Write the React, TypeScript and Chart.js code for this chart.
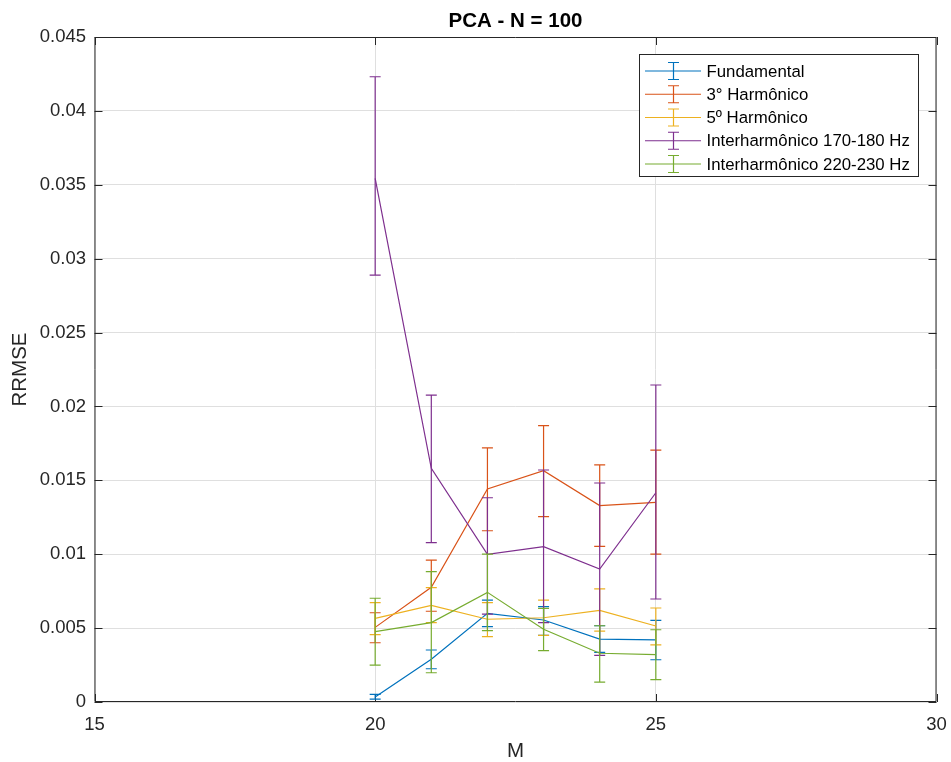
import React, { useEffect, useRef } from "react";
import { Chart, registerables } from "chart.js";

Chart.register(...registerables);

// Window sizes M used in the PCA runs
const mValues = [20, 21, 22, 23, 24, 25];

// RRMSE mean and error-bar limits per component
const fundamental = [0.00034, 0.0029, 0.006, 0.00555, 0.00426, 0.0042];
const fundamentalLow = [0.0002, 0.00225, 0.0051, 0.00451, 0.00336, 0.00286];
const fundamentalHigh = [0.00052, 0.00352, 0.0069, 0.00645, 0.00516, 0.00553];

const harm3 = [0.00505, 0.00776, 0.01441, 0.01565, 0.01329, 0.01351];
const harm3Low = [0.00401, 0.00614, 0.01159, 0.01254, 0.01053, 0.01001];
const harm3High = [0.00604, 0.0096, 0.01719, 0.0187, 0.01604, 0.01705];

const harm5 = [0.00566, 0.00654, 0.0056, 0.0057, 0.0062, 0.00514];
const harm5Low = [0.00456, 0.00537, 0.00442, 0.00451, 0.0048, 0.00386];
const harm5High = [0.00672, 0.00774, 0.00672, 0.0069, 0.00765, 0.00636];

const inter170 = [0.03544, 0.01581, 0.00999, 0.01051, 0.009, 0.01416];
const inter170Low = [0.02889, 0.01078, 0.00595, 0.00537, 0.00316, 0.00697];
const inter170High = [0.04231, 0.02077, 0.01382, 0.0157, 0.01482, 0.02145];

const inter220 = [0.00476, 0.00537, 0.00742, 0.00492, 0.0033, 0.0032];
const inter220Low = [0.0025, 0.00198, 0.00483, 0.00347, 0.00135, 0.00151];
const inter220High = [0.00702, 0.00882, 0.01001, 0.00634, 0.00516, 0.00489];

const seriesNames = [
  "Fundamental",
  "3° Harmônico",
  "5º Harmônico",
  "Interharmônico 170-180 Hz",
  "Interharmônico 220-230 Hz",
];
const seriesColors = ["#0072BD", "#D95319", "#EDB120", "#7E2F8E", "#77AC30"];

const xTicks = [15, 20, 25, 30];
const yTicks = [0, 0.005, 0.01, 0.015, 0.02, 0.025, 0.03, 0.035, 0.04, 0.045];

const titleText = "PCA - N = 100";
const xLabel = "M";
const yLabel = "RRMSE";

const FONT = "'Liberation Sans', Arial, Helvetica, sans-serif";
const AXIS_COLOR = "#262626";

const means = [fundamental, harm3, harm5, inter170, inter220];
const lows = [fundamentalLow, harm3Low, harm5Low, inter170Low, inter220Low];
const highs = [fundamentalHigh, harm3High, harm5High, inter170High, inter220High];

const CAP = 5.5;
const TICK_LEN = 8;
const LINE_W = 1.2;

// Vertical error bars with caps, drawn right after each series' line
const errorBarPlugin = {
  id: "errorBars",
  afterDatasetDraw(chart: any, args: any) {
    const i = args.index;
    const { ctx, scales } = chart;
    const xs = scales.x;
    const ys = scales.y;
    ctx.save();
    ctx.strokeStyle = seriesColors[i];
    ctx.lineWidth = LINE_W;
    mValues.forEach((m, k) => {
      const px = xs.getPixelForValue(m);
      const yl = ys.getPixelForValue(lows[i][k]);
      const yh = ys.getPixelForValue(highs[i][k]);
      ctx.beginPath();
      ctx.moveTo(px, yl);
      ctx.lineTo(px, yh);
      ctx.moveTo(px - CAP, yl);
      ctx.lineTo(px + CAP, yl);
      ctx.moveTo(px - CAP, yh);
      ctx.lineTo(px + CAP, yh);
      ctx.stroke();
    });
    ctx.restore();
  },
};

// Box outline, inward tick marks, titles and legend
const framePlugin = {
  id: "frame",
  beforeDatasetsDraw(chart: any) {
    const { ctx, chartArea: a, scales } = chart;
    ctx.save();
    ctx.strokeStyle = AXIS_COLOR;
    ctx.lineWidth = 1;
    ctx.beginPath();
    ctx.rect(a.left + 0.5, a.top + 0.5, a.right - a.left - 1, a.bottom - a.top - 1);
    xTicks.forEach((t) => {
      const px = Math.round(scales.x.getPixelForValue(t)) + 0.5;
      ctx.moveTo(px, a.bottom);
      ctx.lineTo(px, a.bottom - TICK_LEN);
      ctx.moveTo(px, a.top);
      ctx.lineTo(px, a.top + TICK_LEN);
    });
    yTicks.forEach((t) => {
      const py = Math.round(scales.y.getPixelForValue(t)) + 0.5;
      ctx.moveTo(a.left, py);
      ctx.lineTo(a.left + TICK_LEN, py);
      ctx.moveTo(a.right, py);
      ctx.lineTo(a.right - TICK_LEN, py);
    });
    ctx.stroke();
    ctx.restore();
  },
  afterDraw(chart: any) {
    const { ctx, chartArea: a } = chart;
    const cx = (a.left + a.right) / 2;
    const cy = (a.top + a.bottom) / 2;
    ctx.save();
    ctx.textAlign = "center";
    ctx.textBaseline = "middle";
    ctx.fillStyle = "#000";
    ctx.font = `bold 20.5px ${FONT}`;
    ctx.fillText(titleText, cx, 21);
    ctx.fillStyle = AXIS_COLOR;
    ctx.font = `20.5px ${FONT}`;
    ctx.fillText(xLabel, cx, 751);
    ctx.translate(20, cy);
    ctx.rotate(-Math.PI / 2);
    ctx.fillText(yLabel, 0, 0);
    ctx.restore();

    // legend
    const lx = 639.5;
    const ly = 54.5;
    const lw = 279;
    const lh = 122;
    ctx.save();
    ctx.fillStyle = "#fff";
    ctx.fillRect(lx, ly, lw, lh);
    ctx.strokeStyle = AXIS_COLOR;
    ctx.lineWidth = 1;
    ctx.strokeRect(lx, ly, lw, lh);
    ctx.font = `16.8px ${FONT}`;
    ctx.textAlign = "left";
    ctx.textBaseline = "middle";
    seriesNames.forEach((name, i) => {
      const ry = 71 + i * 23.25;
      ctx.strokeStyle = seriesColors[i];
      ctx.lineWidth = LINE_W;
      ctx.beginPath();
      ctx.moveTo(645, ry);
      ctx.lineTo(701, ry);
      const ex = 673.5;
      ctx.moveTo(ex, ry - 8.5);
      ctx.lineTo(ex, ry + 8.5);
      ctx.moveTo(ex - CAP, ry - 8.5);
      ctx.lineTo(ex + CAP, ry - 8.5);
      ctx.moveTo(ex - CAP, ry + 8.5);
      ctx.lineTo(ex + CAP, ry + 8.5);
      ctx.stroke();
      ctx.fillStyle = "#000";
      ctx.fillText(name, 706.5, ry + 1);
    });
    ctx.restore();
  },
};

export default function App() {
  const canvasRef = useRef<HTMLCanvasElement | null>(null);

  useEffect(() => {
    document.body.style.margin = "0";
    const canvas = canvasRef.current;
    if (!canvas) return;
    const datasets = seriesNames.map((name, i) => ({
      label: name,
      data: mValues.map((m, k) => ({ x: m, y: means[i][k] })),
      borderColor: seriesColors[i],
      backgroundColor: seriesColors[i],
      borderWidth: LINE_W,
      pointRadius: 0,
      fill: false,
      tension: 0,
      order: seriesNames.length - 1 - i,
    }));
    const chart = new Chart(canvas, {
      type: "line",
      data: { datasets },
      options: {
        animation: false,
        responsive: false,
        devicePixelRatio: 1,
        layout: { padding: { top: 37, right: 14.5, left: 0, bottom: 0 } },
        plugins: {
          legend: { display: false },
          title: { display: false },
          tooltip: { enabled: false },
        },
        scales: {
          x: {
            type: "linear",
            min: 15,
            max: 30,
            afterBuildTicks: (s: any) => {
              s.ticks = xTicks.map((v) => ({ value: v }));
            },
            afterFit: (s: any) => {
              s.height = 60;
              s.paddingLeft = 0;
              s.paddingRight = 0;
            },
            ticks: {
              color: AXIS_COLOR,
              font: { family: FONT, size: 18.5 },
              padding: 11.5,
              maxRotation: 0,
              callback: (v: any) => String(v),
            },
            grid: { color: "#dfdfdf", drawTicks: false, lineWidth: 1 },
            border: { display: false },
          },
          y: {
            type: "linear",
            min: 0,
            max: 0.045,
            afterBuildTicks: (s: any) => {
              s.ticks = yTicks.map((v) => ({ value: v }));
            },
            afterFit: (s: any) => {
              s.width = 94.5;
              s.paddingTop = 0;
              s.paddingBottom = 0;
            },
            ticks: {
              color: AXIS_COLOR,
              font: { family: FONT, size: 18.5 },
              padding: 8.5,
              callback: (v: any) => String(Number(Number(v).toFixed(4))),
            },
            grid: { color: "#dfdfdf", drawTicks: false, lineWidth: 1 },
            border: { display: false },
          },
        },
      },
      plugins: [errorBarPlugin, framePlugin],
    });
    return () => chart.destroy();
  }, []);

  return (
    <div style={{ position: "absolute", left: 0, top: 0, width: 951, height: 762, background: "#fff" }}>
      <canvas ref={canvasRef} width={951} height={762} />
    </div>
  );
}
